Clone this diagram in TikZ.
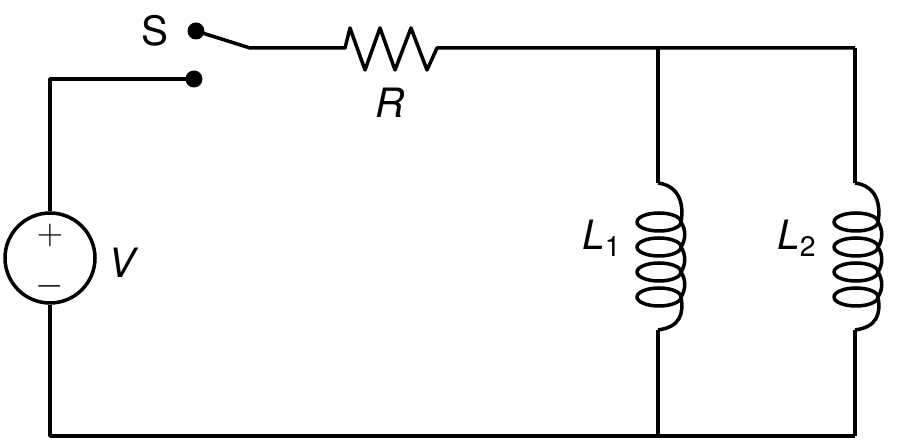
\documentclass[tikz,border=0pt]{standalone}
\usepackage{fontspec}
\setmainfont{TeX Gyre Heros}
\tikzset{
  wire/.style={line width=2pt, line join=round},
  lbl/.style={font=\fontsize{23}{27}\selectfont, inner sep=0pt},
  sgn/.style={font=\fontsize{21}{23}\selectfont, inner sep=0pt},
  dot/.style={circle, fill, inner sep=0pt, minimum size=0.34cm},
}
\newcommand{\coilat}[2]{% x of wire, name
  \foreach \yy in {222,247,272,297}
    \draw[wire] (#1+1,\yy) ellipse [x radius=22, y radius=9];
  \draw[wire] (#1,183) .. controls (#1+22,186) and (#1+26,205) .. (#1+23,222);
  \foreach \yy in {222,247,272}
    \draw[wire] (#1+23,\yy) .. controls (#1+28,\yy+8) and (#1+28,\yy+17) .. (#1+23,\yy+25);
  \draw[wire] (#1+23,297) .. controls (#1+26,314) and (#1+22,327) .. (#1,330);
  \coordinate (#2top) at (#1,183);
  \coordinate (#2bot) at (#1,330);
}
\begin{document}
\begin{tikzpicture}[x=0.02cm, y=-0.02cm]
\useasboundingbox (0,0) rectangle (900,448);

% source
\node[circle, draw, line width=2pt, minimum size=1.8cm, inner sep=0pt] (src) at (50,258) {};
\node[sgn] (plus) at (50,235) {$+$};
\node[sgn] (minus) at (50,286) {$-$};
\node[lbl] (vlab) at (122,263) {\itshape V};

% switch
\node[dot] (sw1) at (194,79) {};
\node[dot] (sw2) at (196,31) {};
\node[lbl] (slab) at (155,31) {S};
\coordinate (swend) at (250,48);
\coordinate (ctl) at (50,79);

% resistor
\coordinate (ra) at (345,48);
\coordinate (rb) at (437,48);
\node[lbl] (rlab) at (390,103) {\itshape R};

% corners
\coordinate (tj) at (658,48);
\coordinate (tr) at (855,48);
\coordinate (bl) at (50,436);
\coordinate (bj) at (658,436);
\coordinate (br) at (855,436);

\coilat{658}{la}
\coilat{855}{lb}
\node[lbl] (l1lab) at (602,238) {\itshape L\textsubscript{\upshape 1}};
\node[lbl] (l2lab) at (797,238) {\itshape L\textsubscript{\upshape 2}};

\draw[wire] (src.north) -- (ctl) -- (sw1.center);
\draw[wire] (sw2.center) -- (swend) -- (ra)
  -- ++(5,-20) -- ++(15,42) -- ++(15,-42) -- ++(15,42) -- ++(16,-42) -- ++(16,42) -- (rb)
  -- (tj) -- (tr);
\draw[wire] (tj) -- (latop);
\draw[wire] (tr) -- (lbtop);
\draw[wire] (src.south) -- (bl) -- (bj) -- (br);
\draw[wire] (labot) -- (bj);
\draw[wire] (lbbot) -- (br);
\end{tikzpicture}
\end{document}
